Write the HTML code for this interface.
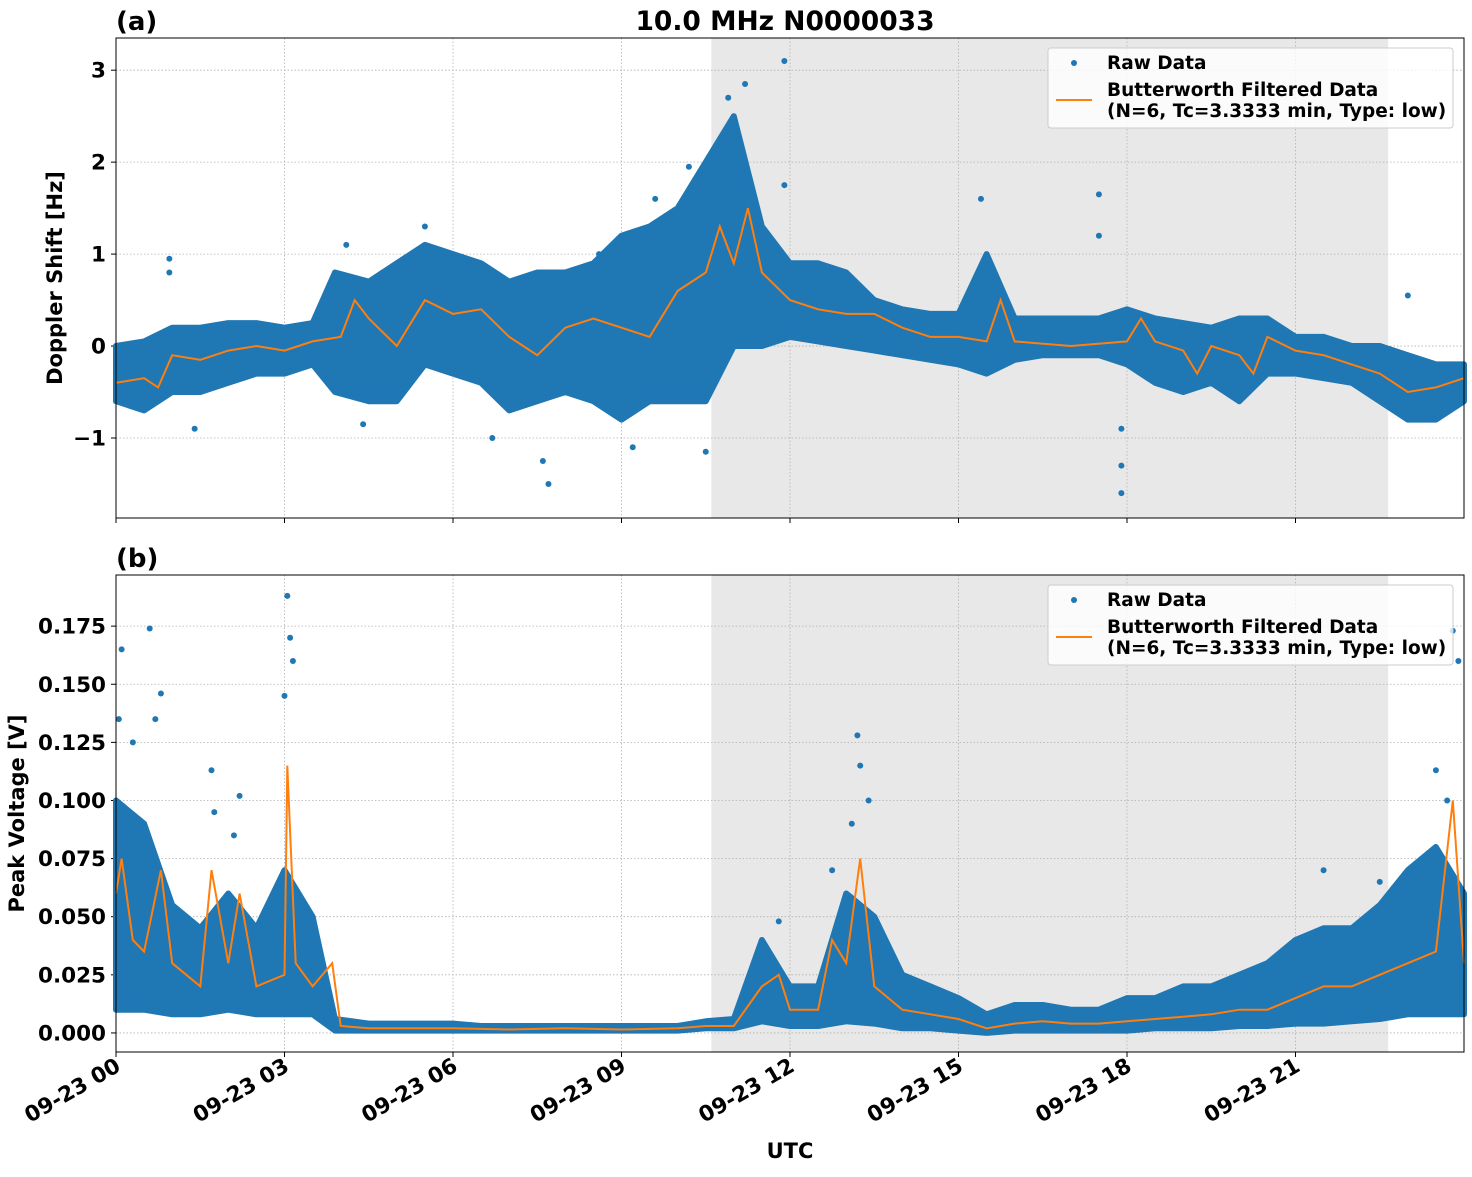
<!DOCTYPE html>
<html><head><meta charset="utf-8"><style>
body{margin:0;background:#fff}
svg text{font-family:"DejaVu Sans","Liberation Sans",sans-serif;font-weight:bold}
</style></head><body>
<svg id="chart" width="1472" height="1172" xmlns="http://www.w3.org/2000/svg"></svg>
<script>
// ---------- data (hours since 09-23 00 UTC) ----------
const envHours=[0,0.5,1,1.5,2,2.5,3,3.5,3.9,4.5,5,5.5,6,6.5,7,7.5,8,8.5,9,9.5,10,10.5,11,11.5,12,12.5,13,13.5,14,14.5,15,15.5,16,16.5,17,17.5,18,18.5,19,19.5,20,20.5,21,21.5,22,22.5,23,23.5,24];
const dopUpper=[0.0,0.05,0.2,0.2,0.25,0.25,0.2,0.25,0.8,0.7,0.9,1.1,1.0,0.9,0.7,0.8,0.8,0.9,1.2,1.3,1.5,2.0,2.5,1.3,0.9,0.9,0.8,0.5,0.4,0.35,0.35,1.0,0.3,0.3,0.3,0.3,0.4,0.3,0.25,0.2,0.3,0.3,0.1,0.1,0.0,0.0,-0.1,-0.2,-0.2];
const dopLower=[-0.6,-0.7,-0.5,-0.5,-0.4,-0.3,-0.3,-0.2,-0.5,-0.6,-0.6,-0.2,-0.3,-0.4,-0.7,-0.6,-0.5,-0.6,-0.8,-0.6,-0.6,-0.6,0.0,0.0,0.1,0.05,0.0,-0.05,-0.1,-0.15,-0.2,-0.3,-0.15,-0.1,-0.1,-0.1,-0.2,-0.4,-0.5,-0.4,-0.6,-0.3,-0.3,-0.35,-0.4,-0.6,-0.8,-0.8,-0.6];
const dopFiltHours=[0,0.5,0.75,1,1.5,2,2.5,3,3.5,4,4.25,4.5,5,5.5,6,6.5,7,7.5,8,8.5,9,9.5,10,10.5,10.75,11,11.25,11.5,12,12.5,13,13.5,14,14.5,15,15.5,15.75,16,17,18,18.25,18.5,19,19.25,19.5,20,20.25,20.5,21,21.5,22,22.5,23,23.5,24];
const dopFilt=[-0.4,-0.35,-0.45,-0.1,-0.15,-0.05,0,-0.05,0.05,0.1,0.5,0.3,0,0.5,0.35,0.4,0.1,-0.1,0.2,0.3,0.2,0.1,0.6,0.8,1.3,0.9,1.5,0.8,0.5,0.4,0.35,0.35,0.2,0.1,0.1,0.05,0.5,0.05,0,0.05,0.3,0.05,-0.05,-0.3,0,-0.1,-0.3,0.1,-0.05,-0.1,-0.2,-0.3,-0.5,-0.45,-0.35];
const dopOutH=[0.95,0.95,11.9,11.9,15.4,17.5,17.5,17.9,17.9,17.9,7.7,7.6,23.0,10.2,11.2,5.5,4.1,9.2,10.5,1.4,10.9,11.0,6.7,8.6,9.6,4.4];
const dopOutV=[0.95,0.8,3.1,1.75,1.6,1.65,1.2,-1.6,-1.3,-0.9,-1.5,-1.25,0.55,1.95,2.85,1.3,1.1,-1.1,-1.15,-0.9,2.7,2.4,-1.0,1.0,1.6,-0.85];

const pvUpper=[0.1,0.09,0.055,0.045,0.06,0.045,0.07,0.05,0.006,0.004,0.004,0.004,0.004,0.003,0.003,0.003,0.003,0.003,0.003,0.003,0.003,0.005,0.006,0.04,0.02,0.02,0.06,0.05,0.025,0.02,0.015,0.008,0.012,0.012,0.01,0.01,0.015,0.015,0.02,0.02,0.025,0.03,0.04,0.045,0.045,0.055,0.07,0.08,0.06];
const pvLower=[0.01,0.01,0.008,0.008,0.01,0.008,0.008,0.008,0.001,0.001,0.001,0.001,0.001,0.001,0.001,0.001,0.001,0.001,0.001,0.001,0.001,0.002,0.002,0.005,0.003,0.003,0.005,0.004,0.002,0.002,0.001,0,0.001,0.001,0.001,0.001,0.001,0.002,0.002,0.002,0.003,0.003,0.004,0.004,0.005,0.006,0.008,0.008,0.008];
const pvFiltHours=[0,0.1,0.3,0.5,0.8,1,1.5,1.7,2,2.2,2.5,3,3.05,3.2,3.5,3.85,4,4.5,5,6,7,8,9,10,10.5,11,11.5,11.8,12,12.5,12.75,13,13.25,13.5,14,14.5,15,15.5,16,16.5,17,17.5,18,18.5,19,19.5,20,20.5,21,21.5,22,22.5,23,23.5,23.8,24];
const pvFilt=[0.06,0.075,0.04,0.035,0.07,0.03,0.02,0.07,0.03,0.06,0.02,0.025,0.115,0.03,0.02,0.03,0.003,0.002,0.002,0.002,0.0015,0.002,0.0015,0.002,0.003,0.003,0.02,0.025,0.01,0.01,0.04,0.03,0.075,0.02,0.01,0.008,0.006,0.002,0.004,0.005,0.004,0.004,0.005,0.006,0.007,0.008,0.01,0.01,0.015,0.02,0.02,0.025,0.03,0.035,0.1,0.03];
const pvOutH=[0.1,0.6,0.8,1.7,2.2,3.05,3.1,3.0,13.2,13.4,13.25,12.75,11.8,21.5,23.8,23.9,23.5,23.7,22.5,0.3,0.05,0.7,1.75,2.1,3.15,13.1];
const pvOutV=[0.165,0.174,0.146,0.113,0.102,0.188,0.17,0.145,0.128,0.1,0.115,0.07,0.048,0.07,0.173,0.16,0.113,0.1,0.065,0.125,0.135,0.135,0.095,0.085,0.16,0.09];

const xTickHours=[0,3,6,9,12,15,18,21];
const xTickLabels=["09-23 00","09-23 03","09-23 06","09-23 09","09-23 12","09-23 15","09-23 18","09-23 21"];
const dopTicks=[-1,0,1,2,3];
const dopTickLabels=["\u22121","0","1","2","3"];
const pvTicks=[0,0.025,0.05,0.075,0.1,0.125,0.15,0.175];
const pvTickLabels=["0.000","0.025","0.050","0.075","0.100","0.125","0.150","0.175"];
const shadeStart=10.6, shadeEnd=22.65;

// ---------- drawing ----------
const NS="http://www.w3.org/2000/svg";
const svg=document.getElementById('chart');
function mk(tag,attrs,parent){const e=document.createElementNS(NS,tag);for(const k in attrs)e.setAttribute(k,attrs[k]);(parent||svg).appendChild(e);return e;}
const L=116,R=1464;
const xs=h=>L+(R-L)*h/24;

function panel(cfg){
  const {top,bot,ymin,ymax,upper,lower,fH,fV,oH,oV,ticks,tickLabels,ylabel,letter,name}=cfg;
  const ys=v=>bot-(v-ymin)/(ymax-ymin)*(bot-top);
  const g=mk('g',{});
  
  
  const sh=mk('rect',{x:xs(shadeStart),y:top,width:xs(shadeEnd)-xs(shadeStart),height:bot-top,fill:'#e8e8e8'},g);
  
  
  xTickHours.forEach(h=>{mk('line',{x1:xs(h),x2:xs(h),y1:top,y2:bot,stroke:'#b0b0b0','stroke-width':0.8,'stroke-dasharray':'1.5,2'},g);});
  ticks.forEach((t,i)=>{
    mk('line',{x1:L,x2:R,y1:ys(t),y2:ys(t),stroke:'#b0b0b0','stroke-width':0.8,'stroke-dasharray':'1.5,2'},g);
    mk('line',{x1:L-5,x2:L,y1:ys(t),y2:ys(t),stroke:'#000'},g);
    const tx=mk('text',{x:L-10,y:ys(t)+7.5,'text-anchor':'end','font-size':21.5},g);
    tx.textContent=tickLabels[i];
    
    
  });
  let d='';
  envHours.forEach((h,i)=>{d+=(i?'L':'M')+xs(h).toFixed(1)+','+ys(upper[i]).toFixed(1);});
  for(let i=envHours.length-1;i>=0;i--)d+='L'+xs(envHours[i]).toFixed(1)+','+ys(lower[i]).toFixed(1);
  const band=mk('path',{d:d+'Z',fill:'#1f77b4',stroke:'#1f77b4','stroke-width':6,'stroke-linejoin':'round'},g);
  
  
  oH.forEach((h,i)=>{
    const c=mk('circle',{cx:xs(h),cy:ys(oV[i]),r:3,fill:'#1f77b4'},g);
    
    
  });
  const pts=fH.map((h,i)=>xs(h).toFixed(1)+','+ys(fV[i]).toFixed(1)).join(' ');
  const fl=mk('polyline',{points:pts,fill:'none',stroke:'#ff7f0e','stroke-width':2},g);
  
  
  xTickHours.forEach(h=>mk('line',{x1:xs(h),x2:xs(h),y1:bot,y2:bot+5,stroke:'#000'},g));
  mk('rect',{x:L,y:top,width:R-L,height:bot-top,fill:'none',stroke:'#000','stroke-width':1},g);
  const yl=mk('text',{x:0,y:0,'text-anchor':'middle','font-size':21,transform:`translate(${cfg.ylx},${(top+bot)/2}) rotate(-90)`},g);
  yl.textContent=ylabel;
  
  
  const lt=mk('text',{x:116,y:top-8,'font-size':26},g);
  lt.textContent=letter;
  
  
  const lg=mk('g',{},g);
  
  
  const ly=top+10;
  mk('rect',{x:1048,y:ly,width:405,height:80,rx:3,fill:'#fff','fill-opacity':0.8,stroke:'#ccc'},lg);
  mk('circle',{cx:1074,cy:ly+15,r:3,fill:'#1f77b4'},lg);
  const t1=mk('text',{x:1107,y:ly+21,'font-size':18.5},lg);t1.textContent='Raw Data';
  
  
  mk('line',{x1:1056,x2:1092,y1:ly+52,y2:ly+52,stroke:'#ff7f0e','stroke-width':2},lg);
  const t2=mk('text',{x:1107,y:ly+48,'font-size':18.5},lg);t2.textContent='Butterworth Filtered Data';
  
  
  const t3=mk('text',{x:1107,y:ly+69,'font-size':18.5},lg);t3.textContent='(N=6, Tc=3.3333 min, Type: low)';
  
  
}

panel({name:'doppler',top:38,bot:518,ymin:-1.87,ymax:3.35,upper:dopUpper,lower:dopLower,fH:dopFiltHours,fV:dopFilt,oH:dopOutH,oV:dopOutV,ticks:dopTicks,tickLabels:dopTickLabels,ylabel:'Doppler Shift [Hz]',letter:'(a)',ylx:62});
panel({name:'voltage',top:575,bot:1052,ymin:-0.0082,ymax:0.197,upper:pvUpper,lower:pvLower,fH:pvFiltHours,fV:pvFilt,oH:pvOutH,oV:pvOutV,ticks:pvTicks,tickLabels:pvTickLabels,ylabel:'Peak Voltage [V]',letter:'(b)',ylx:24});

xTickHours.forEach((h,i)=>{
  const t=mk('text',{x:0,y:0,'text-anchor':'end','font-size':21.5,transform:`translate(${xs(h)+6},${1070}) rotate(-30)`});
  t.textContent=xTickLabels[i];
  
  
});
const title=mk('text',{x:785,y:30,'text-anchor':'middle','font-size':26.5});
title.textContent='10.0 MHz N0000033';


const xl=mk('text',{x:790,y:1158,'text-anchor':'middle','font-size':21});
xl.textContent='UTC';


</script>
</body></html>
